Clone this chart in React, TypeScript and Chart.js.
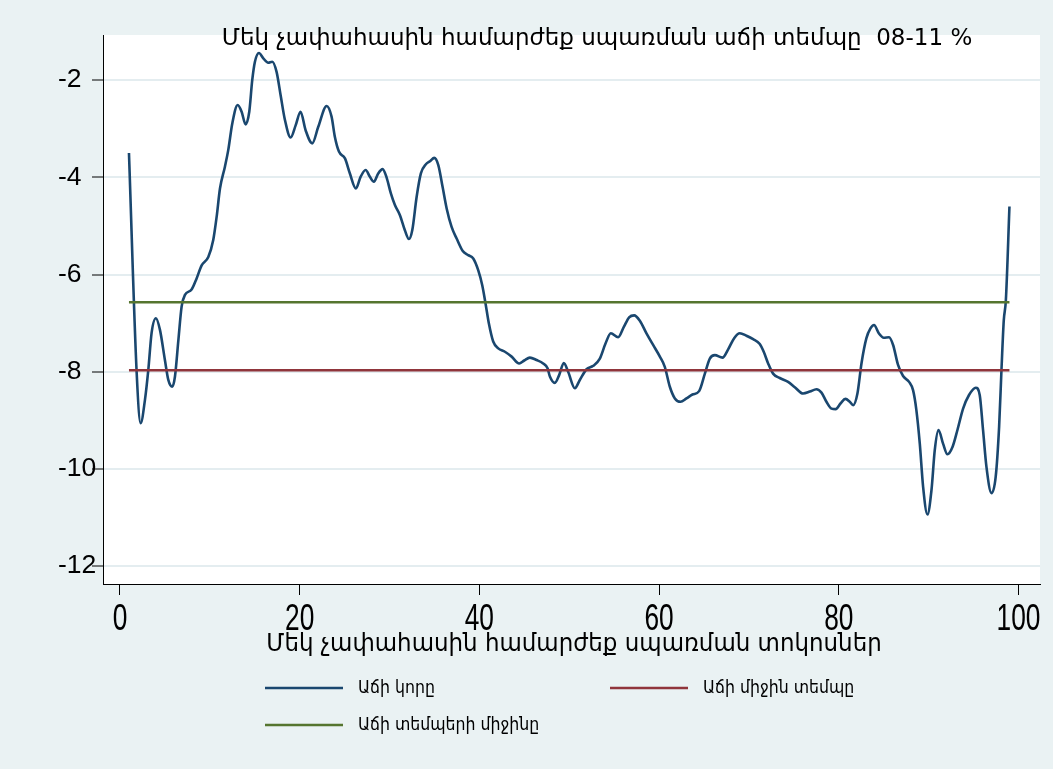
import { useEffect, useRef } from "react";
import { Chart, registerables } from "chart.js";

Chart.register(...registerables);

// ---- Data ----
const curveX = [
  1.0, 1.86, 2.3, 2.78, 3.15, 3.52, 4.0, 4.45, 5.0, 5.38, 5.82, 6.12, 6.5, 6.86, 7.23, 7.97,
  8.53, 9.09, 9.83, 10.38, 10.76, 11.13, 11.68, 12.05, 12.5, 13.1, 13.54, 13.98, 14.39, 14.72, 15.02,
  15.47, 15.95, 16.5, 16.95, 17.43, 17.88, 18.36, 18.99, 19.55, 20.1, 20.66, 21.4, 22.07, 23.0, 23.55,
  23.92, 24.37, 25.04, 25.59, 26.26, 26.78, 27.34, 27.82, 28.26, 28.74, 29.23, 29.67, 30.15, 30.6,
  31.16, 31.71, 32.16, 32.53, 33.02, 33.49, 34.05, 34.5, 34.98, 35.43, 35.91, 36.36, 36.91, 37.47,
  38.13, 38.76, 39.32, 39.87, 40.32, 40.69, 41.06, 41.54, 42.1, 42.84, 43.59, 44.43, 44.99, 45.62,
  46.37, 47.1, 47.59, 47.85, 48.4, 48.88, 49.4, 49.88, 50.63, 51.18, 51.93, 52.67, 53.41, 54.04,
  54.63, 55.45, 56.08, 56.67, 57.23, 57.86, 58.6, 59.34, 60.09, 60.64, 61.2, 61.76, 62.39, 63.05,
  63.72, 64.46, 65.1, 65.65, 66.21, 67.06, 67.69, 68.36, 68.99, 69.73, 70.47, 71.21, 71.65, 72.14,
  72.69, 73.43, 74.36, 75.11, 76.03, 76.78, 77.52, 78.08, 78.63, 79.19, 79.66, 80.22, 80.74, 81.23,
  81.6, 82.08, 82.53, 83.08, 83.53, 83.93, 84.46, 85.01, 85.6, 86.05, 86.6, 87.16, 87.83, 88.27,
  88.64, 89.02, 89.39, 89.87, 90.32, 90.69, 91.1, 91.61, 92.1, 92.66, 93.21, 93.84, 94.5, 95.25,
  95.69, 96.06, 96.44, 97.0, 97.47, 97.85, 98.11, 98.37, 98.6, 99.0,
];
const curveY = [
  -3.5, -8.03, -9.06, -8.58, -7.97, -7.2, -6.9, -7.14, -7.76, -8.17, -8.31, -8.1, -7.35,
  -6.66, -6.42, -6.31, -6.08, -5.81, -5.64, -5.29, -4.81, -4.23, -3.78, -3.44, -2.89, -2.51, -2.65,
  -2.91, -2.65, -2.0, -1.62, -1.44, -1.55, -1.64, -1.62, -1.83, -2.31, -2.82, -3.18, -2.93, -2.65,
  -3.03, -3.3, -2.96, -2.53, -2.75, -3.17, -3.47, -3.61, -3.92, -4.23, -3.99, -3.85, -3.99, -4.09,
  -3.92, -3.83, -4.0, -4.33, -4.57, -4.78, -5.09, -5.27, -5.09, -4.4, -3.92, -3.73, -3.67, -3.6,
  -3.75, -4.2, -4.64, -5.02, -5.26, -5.51, -5.6, -5.67, -5.91, -6.22, -6.6, -7.01, -7.38, -7.52,
  -7.59, -7.69, -7.83, -7.77, -7.71, -7.76, -7.83, -7.93, -8.1, -8.23, -8.07, -7.82, -8.0, -8.34,
  -8.17, -7.95, -7.88, -7.73, -7.42, -7.21, -7.29, -7.08, -6.88, -6.84, -6.95, -7.21, -7.45, -7.69,
  -7.9, -8.31, -8.55, -8.62, -8.55, -8.47, -8.4, -8.04, -7.73, -7.66, -7.71, -7.54, -7.31, -7.21,
  -7.26, -7.33, -7.43, -7.59, -7.83, -8.04, -8.13, -8.21, -8.32, -8.45, -8.41, -8.36, -8.43, -8.62,
  -8.76, -8.77, -8.65, -8.56, -8.62, -8.69, -8.45, -7.83, -7.31, -7.11, -7.04, -7.21, -7.3, -7.29,
  -7.45, -7.86, -8.09, -8.21, -8.38, -8.79, -9.48, -10.37, -10.94, -10.44, -9.61, -9.2, -9.48, -9.7,
  -9.55, -9.2, -8.76, -8.48, -8.33, -8.48, -9.2, -9.96, -10.5, -10.16, -9.13, -7.97, -6.94, -6.53,
  -4.6,
];
const meanGrowthRate = -7.97; // Աճի միջին տեմպը
const meanOfRates = -6.57; // Աճի տեմպերի միջինը
const refLineX = [1, 99];

const xTicks = [0, 20, 40, 60, 80, 100];
const yTicks = [-12, -10, -8, -6, -4, -2];

const titleText = "Մեկ չափահասին համարժեք սպառման աճի տեմպը  08-11 %";
const xTitleText = "Մեկ չափահասին համարժեք սպառման տոկոսներ";
const legendLabels = ["Աճի կորը", "Աճի միջին տեմպը", "Աճի տեմպերի միջինը"];

const BLUE = "#1a476f";
const RED = "#90353b";
const GREEN = "#55752f";
const BG = "#eaf2f3";

const decorPlugin = {
  id: "decor",
  beforeDraw(chart: any) {
    const { ctx, width, height, chartArea: a } = chart;
    ctx.save();
    ctx.fillStyle = BG;
    ctx.fillRect(0, 0, width, height);
    ctx.fillStyle = "#ffffff";
    ctx.fillRect(a.left, a.top, a.right - a.left, a.bottom - a.top);
    ctx.restore();
  },
  afterDraw(chart: any) {
    const { ctx } = chart;
    ctx.save();
    ctx.fillStyle = "#000";
    ctx.textBaseline = "middle";
    // title
    ctx.font = "23px 'DejaVu Sans', 'Liberation Sans', sans-serif";
    ctx.textAlign = "center";
    ctx.fillText(titleText, 597, 39);
    // x tick labels (condensed), positioned by the x scale
    const xs = chart.scales.x;
    ctx.font = "36px 'Liberation Sans', Arial, sans-serif";
    for (const t of xs.ticks) {
      const px = xs.getPixelForValue(t.value);
      ctx.save();
      ctx.translate(px, 620);
      ctx.scale(0.73, 1);
      ctx.fillText(String(t.value), 0, 0);
      ctx.restore();
    }
    // x axis title
    ctx.font = "25.5px 'DejaVu Sans Condensed', 'DejaVu Sans', sans-serif";
    ctx.fillText(xTitleText, 574, 644);
    // legend
    const items = [
      { c: BLUE, t: legendLabels[0], x: 265, y: 688 },
      { c: RED, t: legendLabels[1], x: 610, y: 688 },
      { c: GREEN, t: legendLabels[2], x: 265, y: 725 },
    ];
    ctx.font = "17.5px 'DejaVu Sans Condensed', 'DejaVu Sans', sans-serif";
    ctx.textAlign = "left";
    for (const it of items) {
      ctx.strokeStyle = it.c;
      ctx.lineWidth = 2.5;
      ctx.beginPath();
      ctx.moveTo(it.x, it.y);
      ctx.lineTo(it.x + 78, it.y);
      ctx.stroke();
      ctx.fillText(it.t, it.x + 93, it.y);
    }
    ctx.restore();
  },
};

export default function App() {
  const ref = useRef<HTMLCanvasElement | null>(null);
  useEffect(() => {
    if (!ref.current) return;
    const chart = new Chart(ref.current, {
      type: "line",
      data: {
        datasets: [
          {
            label: legendLabels[0],
            data: curveX.map((x, i) => ({ x, y: curveY[i] })),
            borderColor: BLUE,
            borderWidth: 2.6,
            pointRadius: 0,
            cubicInterpolationMode: "monotone",
            order: 3,
          },
          {
            label: legendLabels[1],
            data: refLineX.map((x) => ({ x, y: meanGrowthRate })),
            borderColor: RED,
            borderWidth: 2.6,
            pointRadius: 0,
            order: 2,
          },
          {
            label: legendLabels[2],
            data: refLineX.map((x) => ({ x, y: meanOfRates })),
            borderColor: GREEN,
            borderWidth: 2.6,
            pointRadius: 0,
            order: 1,
          },
        ],
      },
      options: {
        animation: false,
        responsive: false,
        layout: { padding: { left: 58, top: 35, right: 13, bottom: 0 } },
        plugins: { legend: { display: false }, title: { display: false }, tooltip: { enabled: false } },
        scales: {
          x: {
            type: "linear",
            min: -1.89,
            max: 102.4,
            afterBuildTicks: (s: any) => {
              s.ticks = xTicks.map((v) => ({ value: v }));
            },
            afterFit: (s: any) => {
              s.height = 185;
            },
            grid: {
              drawOnChartArea: false,
              drawTicks: true,
              tickLength: 11,
              tickColor: "#000",
              tickWidth: 1,
            },
            border: { display: true, color: "#000", width: 1 },
            ticks: { display: false },
          },
          y: {
            type: "linear",
            min: -12.37,
            max: -1.07,
            afterBuildTicks: (s: any) => {
              s.ticks = yTicks.map((v) => ({ value: v }));
            },
            afterFit: (s: any) => {
              s.width = 45;
            },
            grid: {
              drawOnChartArea: true,
              color: "#e4edf0",
              lineWidth: 2,
              drawTicks: true,
              tickLength: 11,
              tickColor: "#000",
              tickWidth: 1,
            },
            border: { display: true, color: "#000", width: 1 },
            ticks: {
              color: "#000",
              crossAlign: "far",
              font: { family: "'Liberation Sans', Arial, sans-serif", size: 26.5 },
              callback: (v: any) => String(v),
            },
          },
        },
      },
      plugins: [decorPlugin],
    } as any);
    return () => chart.destroy();
  }, []);
  return (
    <div style={{ position: "absolute", left: 0, top: 0, width: 1053, height: 769 }}>
      <canvas ref={ref} width={1053} height={769} style={{ display: "block" }} />
    </div>
  );
}
